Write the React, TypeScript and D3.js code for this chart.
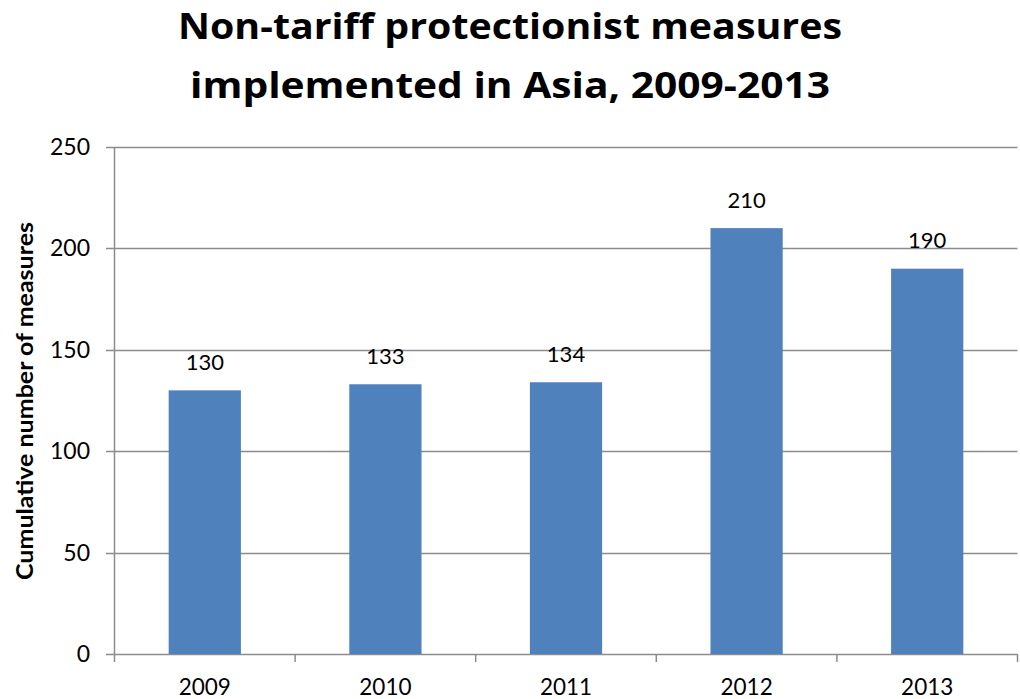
import React from "react";
import * as d3 from "d3";

const categories = ["2009", "2010", "2011", "2012", "2013"];
const values = [130, 133, 134, 210, 190];
const yTicks = [0, 50, 100, 150, 200, 250];
const titleLines = ["Non-tariff protectionist measures", "implemented in Asia, 2009-2013"];
const yAxisTitle = "Cumulative number of measures";

const W = 1020;
const H = 699;
const left = 114.5;
const right = 1017.5;
const top = 147;
const bottom = 654;
const font = "Lato, 'Open Sans', sans-serif";
const titleFont = "'Open Sans', Lato, sans-serif";

export default function App() {
  const x = d3.scaleBand<string>().domain(categories).range([left, right]).paddingInner(0.6).paddingOuter(0.3);
  const y = d3.scaleLinear().domain([0, 250]).range([bottom, top]);
  const bandEdges = d3.range(categories.length + 1).map((i) => left + ((right - left) * i) / categories.length);
  const gridColor = "#8c8c8c";
  const titleLens = [664, 640];
  const titleY = [39, 98];

  return (
    <svg width={W} height={H} style={{ position: "absolute", left: 0, top: 0 }} xmlns="http://www.w3.org/2000/svg">
      <rect width={W} height={H} fill="#ffffff" />
      {titleLines.map((t, i) => (
        <text
          key={i}
          x={510}
          y={titleY[i]}
          textAnchor="middle"
          fontFamily={titleFont}
          fontWeight="bold"
          fontSize={35}
          fill="#000"
          textLength={titleLens[i]}
          lengthAdjust="spacingAndGlyphs"
        >
          {t}
        </text>
      ))}
      {yTicks.map((t) => (
        <g key={t}>
          <line x1={106} x2={right} y1={Math.round(y(t)) + 0.5} y2={Math.round(y(t)) + 0.5} stroke={gridColor} strokeWidth={1.5} />
          <text x={90} y={y(t) + 8} textAnchor="end" fontFamily={font} fontSize={23} fill="#000">
            {t}
          </text>
        </g>
      ))}
      <line x1={left} x2={left} y1={top} y2={bottom} stroke={gridColor} strokeWidth={1.5} />
      {bandEdges.map((e, i) => (
        <line key={i} x1={e} x2={e} y1={bottom} y2={bottom + 8} stroke={gridColor} strokeWidth={1.5} />
      ))}
      {categories.map((c, i) => (
        <g key={c}>
          <rect x={x(c)} y={y(values[i])} width={x.bandwidth()} height={bottom - y(values[i])} fill="#4F81BD" />
          <text x={(x(c) as number) + x.bandwidth() / 2} y={y(values[i]) - 20.5} textAnchor="middle" fontFamily={font} fontSize={22} fill="#000">
            {values[i]}
          </text>
          <text x={(x(c) as number) + x.bandwidth() / 2} y={695} textAnchor="middle" fontFamily={font} fontSize={22.5} fill="#000">
            {c}
          </text>
        </g>
      ))}
      <text
        transform={`translate(33, 401) rotate(-90)`}
        textAnchor="middle"
        fontFamily={font}
        fontWeight="bold"
        fontSize={22.5}
        fill="#000"
        textLength={358}
        lengthAdjust="spacingAndGlyphs"
      >
        {yAxisTitle}
      </text>
    </svg>
  );
}
